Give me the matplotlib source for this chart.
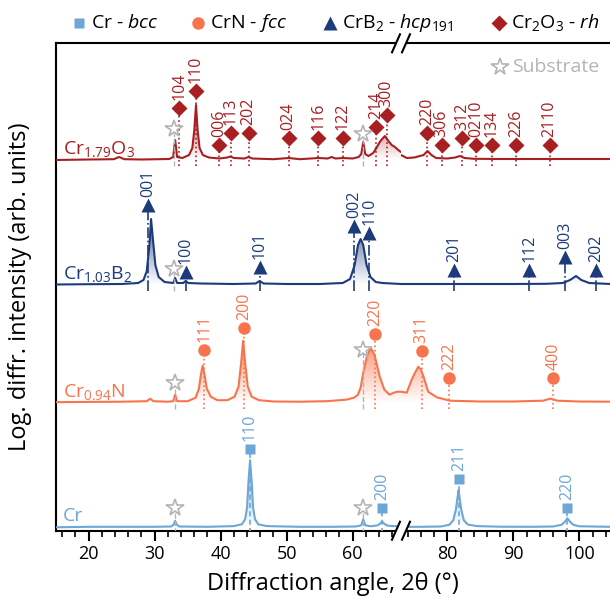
import numpy as np
import matplotlib.pyplot as plt
from matplotlib.lines import Line2D
from matplotlib.path import Path
from matplotlib.patches import Polygon
from matplotlib.colors import LinearSegmentedColormap, to_rgb

plt.rcParams['font.family'] = 'Open Sans'
plt.rcParams['mathtext.fontset'] = 'custom'
plt.rcParams['mathtext.rm'] = 'Open Sans'
plt.rcParams['mathtext.it'] = 'Open Sans:italic'
plt.rcParams['mathtext.bf'] = 'Open Sans:bold'

CR_COL = '#6ca7d6'
CRN_COL = '#f8744c'
CRB2_COL = '#1d3b7b'
CR2O3_COL = '#a81f22'
SUB_COL = '#b4b4b4'

# ---- measured patterns: 2theta (deg) and intensity above the pattern baseline (arb. units)
cr_tt = [15, 20, 25, 30, 32.5, 32.9, 33.1, 33.3, 33.7, 38, 42, 43.2, 43.7, 44.0, 44.2, 44.45,
         44.7, 44.9, 45.2, 45.7, 47, 52, 57, 60.5, 61.3, 61.6, 61.9, 62.8, 63.8, 64.2, 64.45,
         64.7, 65.2, 66, 67.5, 73, 76, 79, 80.3, 80.9, 81.3, 81.55, 81.7, 81.85, 82.1, 82.5,
         83.1, 84.5, 88, 93, 96, 97.3, 97.8, 98.2, 98.6, 99.1, 100, 104.7]
cr_int = [0, 0.5, 0.5, 0.5, 0.8, 3, 6.5, 3, 0.8, 0.5, 1.2, 3, 8, 20, 45, 67,
          45, 20, 8, 3, 1.2, 0.5, 0.5, 0.8, 2, 8, 2, 1, 2, 4, 6,
          4, 1.8, 1.2, 1.2, 0.5, 0.5, 0.8, 2.5, 7, 18, 30, 37, 30, 18, 7,
          2.8, 1.2, 0.6, 0.5, 0.8, 2.5, 5.5, 9, 5.5, 2.5, 1, 0.5]

crn_tt = [15, 20, 25, 28.8, 29.3, 29.8, 32, 32.8, 33.1, 33.4, 35, 36.2, 36.7, 37.0, 37.27,
          37.55, 37.9, 38.5, 39.5, 41, 42.1, 42.7, 43.1, 43.4, 43.7, 44.1, 44.7, 45.8, 48,
          52, 56, 59, 60.2, 60.8, 61.2, 61.6, 62.1, 62.5, 62.8, 63.3, 64.1, 64.8, 65.6,
          66.2, 66.8, 67.3, 73, 73.85, 74.6, 75.1, 75.6, 76.0, 76.4, 77.1, 78.4, 80.4, 85,
          90, 94.5, 95.6, 96.7, 100, 104.7]
crn_int = [0.5, 0.8, 1, 1.5, 4, 1.5, 1, 1.5, 8, 1.5, 1.5, 5, 14, 28, 37,
           28, 14, 6, 2.5, 2.5, 6, 16, 40, 62, 40, 16, 6, 2.5, 1.2,
           1, 1.5, 3, 5, 8, 15, 30, 45, 52, 54, 48, 26, 13, 8,
           10, 11, 11, 11, 10, 23, 30, 36, 33, 26, 11, 5.4, 2, 1.2,
           1.2, 2, 4, 2, 1.2, 1]

crb2_tt = [15, 20, 25, 27.5, 28.3, 28.8, 29.2, 29.45, 29.7, 30.1, 30.6, 31.5, 32.8, 33.1,
           33.4, 34.3, 34.7, 35.1, 37, 42, 45.3, 45.9, 46.5, 50, 55, 58.5, 59.6, 60.3, 60.8,
           61.2, 61.6, 62.1, 62.7, 63.5, 64.5, 67.3, 73, 80, 85, 90, 95, 97.5, 98.6, 99.5,
           100.3, 101.5, 104.7]
crb2_int = [0.5, 0.8, 1, 2, 5, 14, 40, 66, 48, 20, 8, 3, 2, 7,
            2, 2, 4, 2, 1.5, 1, 1.5, 4, 1.5, 1, 1, 2, 6, 20, 40,
            46, 40, 20, 8, 3, 2, 1, 1, 1, 1, 1, 1.2, 2, 5, 9,
            5, 2, 1]

cr2o3_tt = [15, 20, 23.8, 24.6, 25.4, 28, 32.2, 32.8, 33.1, 33.4, 34.2, 35.2, 35.7, 36.0,
            36.26, 36.5, 36.8, 37.3, 38.2, 39.8, 41.0, 41.5, 42.0, 43.6, 44.2, 44.8, 48,
            50.3, 52, 54.8, 56.2, 56.8, 57.4, 58.5, 60, 60.9, 61.3, 61.6, 61.9, 62.4, 63.1,
            63.6, 64.1, 64.6, 64.9, 65.3, 65.9, 66.4, 66.9, 67.3, 73, 73.85, 75, 76.4, 77.0,
            77.6, 78.3, 80, 81.2, 81.9, 82.6, 84, 88, 95, 104.7]
cr2o3_int = [0, 0.5, 0.8, 3, 0.8, 0.5, 1, 3, 20, 3, 2, 5, 12, 30,
             55, 30, 12, 5, 2.5, 1.5, 2.5, 3.5, 2, 1.5, 3, 1.5, 0.8,
             2, 0.8, 2, 1.5, 3, 1.5, 2, 1.5, 3, 6, 18, 6, 4, 7,
             12, 18, 22, 24, 20, 15, 13, 10, 8, 5, 2, 2.5, 5, 9,
             5, 2, 1.5, 2.5, 4, 2, 1.2, 1, 1, 1]

# vertical offset (baseline) of each pattern
cr_off, crn_off, crb2_off, cr2o3_off = 3.4, 128.0, 245.7, 370.7

# ---- reflections: position (deg), hkl, marker height above baseline
cr_pk = [44.44, 64.45, 81.8, 98.2]
cr_hkl = ['110', '200', '211', '220']
cr_mk = [78, 19, 48, 19]

crn_pk = [37.5, 43.6, 63.4, 76.1, 80.26, 96.06]
crn_hkl = ['111', '200', '220', '311', '222', '400']
crn_mk = [52.7, 74.4, 68.7, 52, 25, 25]

crb2_pk = [29.03, 34.74, 45.95, 60.2, 62.5, 81.06, 92.4, 97.8, 102.5]
crb2_hkl = ['001', '100', '101', '002', '110', '201', '112', '003', '202']
crb2_mk = [80, 13.3, 17.7, 59, 52.3, 15, 15, 27.7, 15]

cr2o3_pk = [33.73, 36.26, 39.8, 41.56, 44.24, 50.3, 54.8, 58.5, 63.5, 65.15,
            76.9, 79.15, 82.2, 84.35, 86.7, 90.4, 95.5]
cr2o3_hkl = ['104', '110', '006', '113', '202', '024', '116', '122', '214', '300',
             '220', '306', '312', '0210', '134', '226', '2110']
cr2o3_mk = [52.3, 69.3, 15, 26.7, 26.7, 21.7, 21.7, 21.7, 32.7, 45,
            27.3, 14.7, 21.7, 14.7, 14.7, 14.7, 14.7]

# substrate reflections per pattern
sub_cr = ([33.07, 61.6], [19, 19.3])
sub_crn = ([33.1, 61.6], [19.4, 52.7])
sub_crb2 = ([33.0], [15.7])
sub_cr2o3 = ([33.0, 61.6], [30.7, 26])

patterns = [
    (cr_tt, cr_int, cr_off, CR_COL, 'Cr'),
    (crn_tt, crn_int, crn_off, CRN_COL, 'Cr$_{0.94}$N'),
    (crb2_tt, crb2_int, crb2_off, CRB2_COL, 'Cr$_{1.03}$B$_2$'),
    (cr2o3_tt, cr2o3_int, cr2o3_off, CR2O3_COL, 'Cr$_{1.79}$O$_3$'),
]
phases = [
    (cr_pk, cr_hkl, cr_mk, cr_off, CR_COL, 's', (0, (3, 2)), 7.5, sub_cr),
    (crn_pk, crn_hkl, crn_mk, crn_off, CRN_COL, 'o', ':', 9, sub_crn),
    (crb2_pk, crb2_hkl, crb2_mk, crb2_off, CRB2_COL, '^', '-.', 10, sub_crb2),
    (cr2o3_pk, cr2o3_hkl, cr2o3_mk, cr2o3_off, CR2O3_COL, 'D', ':', 8.5, sub_cr2o3),
]


def draw_all(ax, lo, hi):
    for tt, inten, off, col, name in patterns:
        tt = np.asarray(tt, float)
        y = off + np.asarray(inten, float)
        verts = np.vstack([np.column_stack([tt, y]),
                           np.column_stack([tt[::-1], np.full(len(tt), off)])])
        cmap = LinearSegmentedColormap.from_list(
            'g', [to_rgb(col) + (0.0,), to_rgb(col) + (0.8,)])
        im = ax.imshow(np.linspace(0, 1, 200).reshape(-1, 1),
                       extent=[tt[0], tt[-1], off, off + max(inten)],
                       origin='lower', aspect='auto', cmap=cmap, zorder=2)
        im.set_clip_path(Path(verts), transform=ax.transData)
        ax.plot(tt, y, color=col, lw=1.5, zorder=3)

    for pk, hkl, mk, off, col, marker, ls, ms, sub in phases:
        for p, h, m in zip(pk, hkl, mk):
            if not lo <= p <= hi:
                continue
            ax.plot([p, p], [off - 6, off + m], color=col, ls=ls, lw=1.2, zorder=4)
            ax.plot(p, off + m, marker=marker, color=col, ms=ms, mec='none', zorder=5)
            ax.text(p, off + m + 8, h, rotation=90, ha='center', va='bottom',
                    color=col, fontsize=11.5, zorder=5, linespacing=0.9)
        for p, m in zip(*sub):
            if not lo <= p <= hi:
                continue
            ax.plot([p, p], [off - 6, off + m], color=SUB_COL, ls='--', lw=1, zorder=4)
            ax.plot(p, off + m, marker='*', ms=13, mfc='white', mec=SUB_COL,
                    mew=1.2, zorder=5)


fig = plt.figure(figsize=(6.1, 6.0), dpi=100)
W, H = 610.0, 600.0
x0, xb, x1 = 55.7, 401.0, 610.0
ybot, ytop = 530.7, 43.3
axl = fig.add_axes([x0 / W, 1 - ybot / H, (xb - x0) / W, (ybot - ytop) / H])
axr = fig.add_axes([xb / W, 1 - ybot / H, (x1 - xb) / W, (ybot - ytop) / H])

lims = [(15, 67.32), (72.98, 104.65)]
for ax, (lo, hi) in zip([axl, axr], lims):
    draw_all(ax, lo, hi)
    ax.set_xlim(lo, hi)
    ax.set_ylim(0, 487.4)
    ax.set_yticks([])
    ax.patch.set_visible(False)
    for s in ax.spines.values():
        s.set_linewidth(1.5)
    ax.tick_params(axis='x', which='major', direction='out', length=7, width=1.5,
                   labelsize=13, pad=3)
    ax.tick_params(axis='x', which='minor', direction='out', length=4, width=1.2)

axl.set_xticks([20, 30, 40, 50, 60])
axl.set_xticks(np.arange(16, 67, 2), minor=True)
axr.set_xticks([80, 90, 100])
axr.set_xticks(np.arange(74, 105, 2), minor=True)
axl.spines['right'].set_visible(False)
axr.spines['left'].set_visible(False)
axr.spines['right'].set_visible(False)

for tt, inten, off, col, name in patterns:
    axl.text(16.1, off + 6, name, color=col, fontsize=14, va='baseline', ha='left', zorder=6)

axl.set_ylabel('Log. diffr. intensity (arb. units)', fontsize=17)
axl.yaxis.set_label_coords(-0.068, 0.5)
fig.text(333 / W, 1 - 584 / H, 'Diffraction angle, 2θ (°)', fontsize=17,
         ha='center', va='center')

# break marks
tr = fig.dpi_scale_trans
for yc in [ytop, ybot]:
    def P(px, py):
        return (px / 100.0, (H - py) / 100.0)
    fig.add_artist(Polygon([P(392, yc + 9), P(400, yc - 9), P(410, yc - 9), P(402, yc + 9)],
                           closed=True, facecolor='white', edgecolor='none',
                           transform=tr, zorder=10))
    for dx in [0, 10]:
        a, b = P(392 + dx, yc + 9), P(400 + dx, yc - 9)
        fig.add_artist(Line2D([a[0], b[0]], [a[1], b[1]], color='black', lw=1.5,
                              transform=tr, zorder=11))

# legend across the top
leg_items = [
    ('s', CR_COL, 7.5, 'Cr - $\\mathit{bcc}$', 79),
    ('o', CRN_COL, 9, 'CrN - $\\mathit{fcc}$', 197.5),
    ('^', CRB2_COL, 10, 'CrB$_2$ - $\\mathit{hcp}_{\\mathit{191}}$', 330),
    ('D', CR2O3_COL, 8.5, 'Cr$_2$O$_3$ - $\\mathit{rh}$', 498.6),
]
for mk, col, ms, lab, px in leg_items:
    fig.add_artist(Line2D([px / W], [1 - 22.5 / H], marker=mk, color=col, ms=ms,
                          mec='none', transform=fig.transFigure))
    fig.text((px + 12) / W, 1 - 22.5 / H, lab, fontsize=14, va='center', ha='left')

fig.add_artist(Line2D([500 / W], [1 - 67 / H], marker='*', ms=13, mfc='white',
                      mec=SUB_COL, mew=1.2, transform=fig.transFigure))
fig.text(512 / W, 1 - 67 / H, 'Substrate', fontsize=14, color=SUB_COL,
         va='center', ha='left')

fig.savefig('out.png', dpi=100)
